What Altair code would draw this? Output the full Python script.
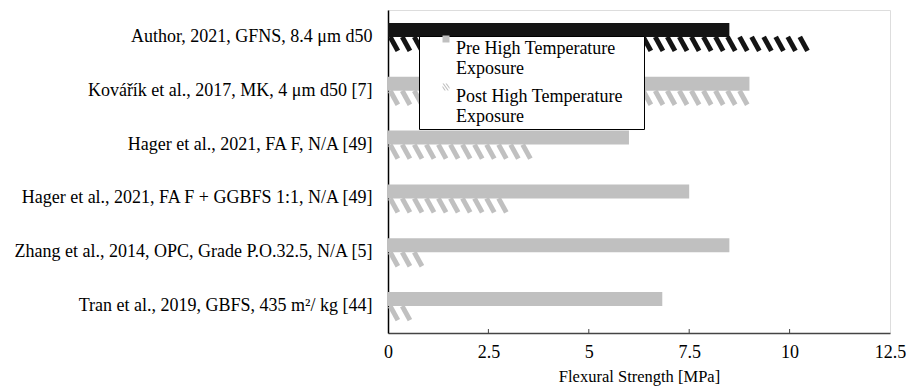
import altair as alt
import pandas as pd

categories = [
    "Author, 2021, GFNS, 8.4 μm d50",
    "Kovářík et al., 2017, MK, 4 μm d50 [7]",
    "Hager et al., 2021, FA F, N/A [49]",
    "Hager et al., 2021, FA F + GGBFS 1:1, N/A [49]",
    "Zhang et al., 2014, OPC, Grade P.O.32.5, N/A [5]",
    "Tran et al., 2019, GBFS, 435 m²/ kg [44]",
]
pre_values = [8.5, 9.0, 6.0, 7.5, 8.5, 6.83]
post_values = [10.5, 9.0, 3.6, 3.0, 1.0, 0.63]
series_names = ["Pre High Temperature|Exposure", "Post High Temperature|Exposure"]
bar_colors = ["#141414", "#c0c0c0", "#c0c0c0", "#c0c0c0", "#c0c0c0", "#c0c0c0"]
x_ticks = [0, 2.5, 5, 7.5, 10, 12.5]

FONT = "Liberation Serif, Times New Roman, serif"
W, H = 502, 323

pre_df = pd.DataFrame({
    "category": categories,
    "value": pre_values,
    "series": series_names[0],
    "color": bar_colors,
})

# hatch stripes for the post-exposure bars (decoration derived from each value)
pitch = 0.3
rows = []
for cat, v, col in zip(categories, post_values, bar_colors):
    c = pitch / 2
    while c <= v - 0.12:
        rows.append({"category": cat, "value": c, "series": series_names[1], "color": col})
        c += pitch
stripe_df = pd.DataFrame(rows)

legend_df = pd.DataFrame({
    "category": [categories[0], categories[0]],
    "value": [0.0, 0.0],
    "series": series_names,
})

y_enc = alt.Y(
    "category:N",
    sort=categories,
    scale=alt.Scale(domain=categories, paddingInner=0.48, paddingOuter=0.24),
    axis=alt.Axis(title=None, ticks=False, labelPadding=16, labelFontSize=18,
                  labelFont=FONT, labelColor="black", labelLimit=500,
                  domainColor="black", domainWidth=1.5),
)
yoff_enc = alt.YOffset(
    "series:N",
    sort=series_names,
    scale=alt.Scale(domain=series_names, paddingInner=0, paddingOuter=0),
)
x_enc = alt.X(
    "value:Q",
    scale=alt.Scale(domain=[0, 12.5], nice=False),
    axis=alt.Axis(values=x_ticks, format=".1~f", ticks=False, grid=False,
                  title="Flexural Strength [MPa]", titleFont=FONT, titleFontSize=16.5,
                  titleFontWeight="normal", titleColor="black", titlePadding=7,
                  labelFont=FONT, labelFontSize=18, labelColor="black", labelPadding=10,
                  domainColor="#444444", domainWidth=1.5, labelFlush=False),
)

bars = alt.Chart(pre_df).mark_bar().encode(
    x=x_enc, y=y_enc, yOffset=yoff_enc,
    fill=alt.Fill("color:N", scale=None),
)

stripes = alt.Chart(stripe_df).mark_point(
    shape="M -0.55 -1 L 0.55 1", size=196, strokeWidth=5, strokeCap="butt",
    filled=False, opacity=1,
).encode(
    x="value:Q", y=alt.Y("category:N", sort=categories),
    yOffset=alt.YOffset("series:N", sort=series_names),
    stroke=alt.Stroke("color:N", scale=None),
)

# legend icons drawn raised so they sit beside the first line of each label
square_icon = "M -0.35 -1.35 L 0.35 -1.35 L 0.35 -0.65 L -0.35 -0.65 Z"
hatch_icon = (
    "M -0.35 -1.35 L -0.22 -1.35 L 0.28 -0.65 L 0.15 -0.65 Z "
    "M -0.05 -1.35 L 0.08 -1.35 L 0.35 -0.97 L 0.35 -0.79 Z "
    "M -0.35 -0.95 L -0.35 -1.13 L -0.02 -0.65 L -0.15 -0.65 Z"
)
legend_layer = alt.Chart(legend_df).mark_point(
    opacity=0, filled=True, fill="#c0c0c0", strokeWidth=0,
).encode(
    x="value:Q", y=alt.Y("category:N", sort=categories),
    shape=alt.Shape(
        "series:N",
        sort=series_names,
        scale=alt.Scale(domain=series_names, range=[square_icon, hatch_icon]),
        legend=alt.Legend(
            title="\u00a0", titleOrient="right", titlePadding=18,
            titleFontSize=4, titleColor="white",
            orient="none", legendX=31, legendY=26,
            fillColor="white", strokeColor="black", padding=3,
            labelFont=FONT, labelFontSize=18, labelColor="black",
            labelExpr="split(datum.label, '|')", labelLimit=400,
            symbolSize=400, symbolOpacity=1, symbolFillColor="#c0c0c0",
            symbolStrokeWidth=0,
            symbolOffset=14, labelOffset=0, rowPadding=5,
        ),
    ),
)

ticks_df = pd.DataFrame({"value": x_ticks[1:-1]})
inner_ticks = alt.Chart(ticks_df).mark_rule(color="#444444", strokeWidth=1).encode(
    x="value:Q", y=alt.value(H - 4), y2=alt.value(H),
)

chart = alt.layer(bars, stripes, inner_ticks, legend_layer).properties(
    width=W, height=H,
    autosize=alt.AutoSizeParams(type="none"),
    padding={"left": 380, "top": 2, "right": 17, "bottom": 56},
).configure_view(
    stroke="#808080", strokeWidth=1.5,
).configure(background="white")

chart.save("out.html", embed_options={"renderer": "svg", "actions": False})
